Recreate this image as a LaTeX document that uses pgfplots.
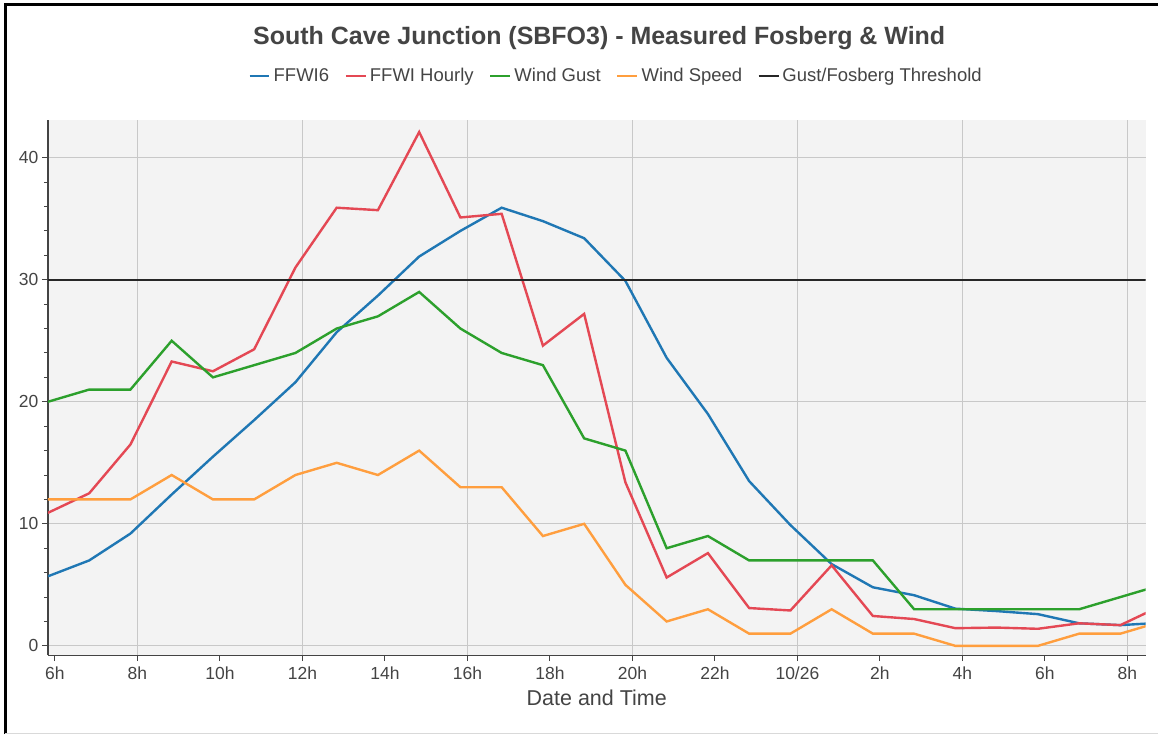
\documentclass[border=0pt]{standalone}
\usepackage{pgfplots}
\pgfplotsset{compat=1.18}
\usepackage{pgfplotstable}
\usepackage{fontspec}
\setmainfont{Liberation Sans}
\definecolor{cblue}{RGB}{31,119,180}
\definecolor{cred}{RGB}{228,72,84}
\definecolor{cgreen}{RGB}{44,160,44}
\definecolor{corange}{RGB}{255,158,62}
\definecolor{txt}{RGB}{68,68,68}
\definecolor{bg}{RGB}{243,243,243}
\definecolor{gridc}{RGB}{200,200,200}

\pgfplotstableread{
x     ffwi6  ffwih  gust  speed
-0.17  5.7   10.9   20    12
0.83   7.0   12.5   21    12
1.83   9.2   16.5   21    12
2.83  12.4   23.3   25    14
3.83  15.5   22.5   22    12
4.83  18.5   24.3   23    12
5.83  21.6   31.0   24    14
6.83  25.7   35.9   26    15
7.83  28.7   35.7   27    14
8.83  31.9   42.1   29    16
9.83  34.0   35.1   26    13
10.83 35.9   35.4   24    13
11.83 34.8   24.6   23     9
12.83 33.4   27.2   17    10
13.83 29.9   13.4   16     5
14.83 23.6    5.6    8     2
15.83 19.0    7.6    9     3
16.83 13.5    3.1    7     1
17.83  9.9    2.9    7     1
18.83  6.7    6.6    7     3
19.83  4.8    2.45   7     1
20.83  4.15   2.2    3     1
21.83  3.05   1.45   3     0
22.83  2.85   1.5    3     0
23.83  2.6    1.4    3     0
24.83  1.85   1.85   3     1
25.83  1.7    1.7    4     1
26.83  1.9    3.3    5     2
}\data

\begin{document}
\begin{tikzpicture}[x=1pt,y=1pt]
\path[fill=white] (0,0) rectangle (1159,735);
\draw[black,line width=3pt] (5.5,0) -- (5.5,730.5) -- (1159,730.5);
\draw[gray!30,line width=1pt] (5.5,0.5) -- (1159,0.5);
\node[font=\fontsize{25}{29}\selectfont\bfseries, text=txt] at (600,697) {South Cave Junction (SBFO3) - Measured Fosberg \& Wind};
\begin{axis}[
  at={(48pt,79pt)}, anchor=south west,
  width=1099pt, height=536pt, scale only axis,
  xmin=-0.17, xmax=26.44, ymin=-0.76, ymax=43.1,
  axis background/.style={fill=bg},
  axis x line*=bottom, axis y line*=left,
  axis line style={draw=txt, line width=1.3pt, -},
  xtick={0,2,...,26},
  xticklabels={6h,8h,10h,12h,14h,16h,18h,20h,22h,10/26,2h,4h,6h,8h},
  extra x ticks={2,6,10,14,18,22,26},
  extra x tick labels={},
  extra x tick style={grid=major, major tick length=0pt},
  ytick={0,10,20,30,40},
  minor y tick num=4,
  ymajorgrids=true,
  major grid style={draw=gridc, line width=0.9pt},
  tick align=outside,
  major tick length=6pt, minor tick length=4pt,
  tick style={draw=txt, line width=1pt},
  every tick label/.append style={font=\fontsize{17.5}{20}\selectfont, text=txt},
  /pgf/number format/assume math mode=true,
  xticklabel style={yshift=-2pt},
  xlabel={Date and Time},
  xlabel style={font=\fontsize{21.5}{25}\selectfont, text=txt, yshift=2pt},
  legend columns=-1,
  legend style={draw=none, fill=none, at={(0.518,1.082)}, anchor=center,
    font=\fontsize{18.5}{21}\selectfont, text=txt,
    /tikz/every even column/.append style={column sep=12.5pt},
    nodes={inner xsep=3pt}},
  legend image code/.code={\draw[#1] (0pt,0pt) -- (20pt,0pt);},
  clip=true,
]
\addplot[cblue, line width=2.4pt] table[x=x,y=ffwi6] {\data};
\addlegendentry{FFWI6}
\addplot[cred, line width=2.4pt] table[x=x,y=ffwih] {\data};
\addlegendentry{FFWI Hourly}
\addplot[cgreen, line width=2.4pt] table[x=x,y=gust] {\data};
\addlegendentry{Wind Gust}
\addplot[corange, line width=2.4pt] table[x=x,y=speed] {\data};
\addlegendentry{Wind Speed}
\addplot[black!85, line width=1.8pt] coordinates {(-0.17,30) (26.83,30)};
\addlegendentry{Gust/Fosberg Threshold}
\end{axis}
\end{tikzpicture}
\end{document}
